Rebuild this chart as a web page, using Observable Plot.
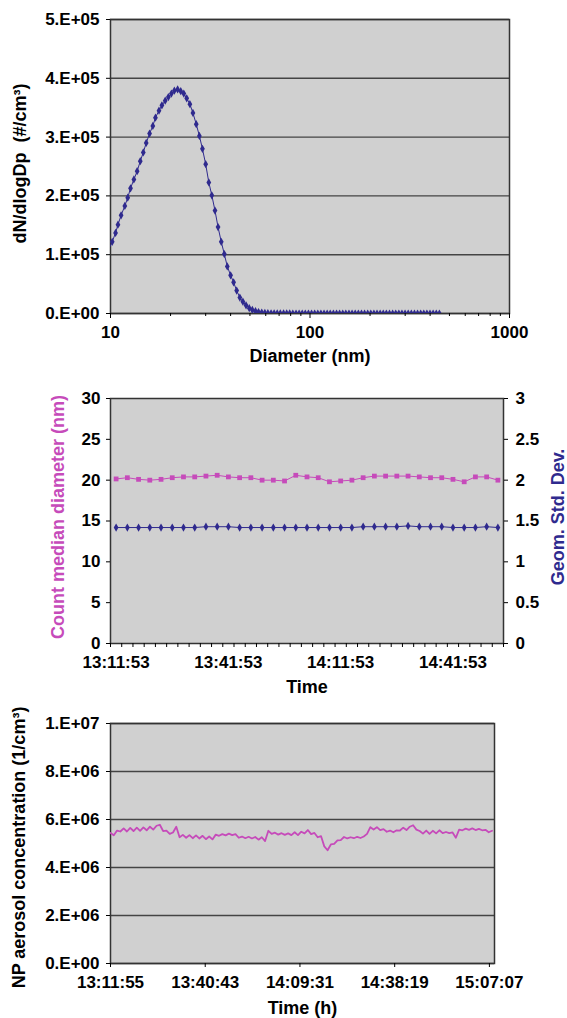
<!DOCTYPE html>
<html>
<head>
<meta charset="utf-8">
<script src="https://cdn.jsdelivr.net/npm/d3@7"></script>
<script src="https://cdn.jsdelivr.net/npm/@observablehq/plot@0.6"></script>
<style>
  body { margin: 0; background: #fff; }
  #chart svg { display: block; }
</style>
</head>
<body>
<div id="chart"></div>
<script>
// ---------- Panel 1: size distribution ----------
const diameterNm = [
  9.82, 10.2, 10.6, 10.9, 11.3, 11.8, 12.2, 12.6, 13.1, 13.6,
  14.1, 14.6, 15.1, 15.7, 16.3, 16.8, 17.5, 18.1, 18.8, 19.5,
  20.2, 20.9, 21.7, 22.5, 23.3, 24.1, 25.0, 25.9, 26.9, 27.9,
  28.9, 30.0, 31.1, 32.2, 33.4, 34.6, 35.9, 37.2, 38.5, 40.0,
  41.4, 42.9, 44.5, 46.1, 47.8, 49.6, 51.4, 53.3, 55.2, 57.3,
  59.4, 61.5, 63.8, 66.1, 68.5, 71.0, 73.7, 76.4, 79.1, 82.0,
  85.1, 88.2, 91.4, 94.7, 98.2, 101.8, 105.5, 109.4, 113.4, 117.6,
  121.9, 126.3, 131.0, 135.8, 140.7, 145.9, 151.2, 156.8, 162.5, 168.5,
  174.7, 181.1, 187.7, 194.6, 201.7, 209.1, 216.7, 224.7, 232.9, 241.4,
  250.3, 259.5, 269.0, 278.8, 289.0, 299.6, 310.6, 322.0, 333.8, 346.0,
  358.7, 371.8, 385.4, 399.5, 414.2, 429.4, 445.1
];
const dNdlogDp = [
  110000, 122000, 137000, 151000, 167000, 183000, 197000, 213000, 228000, 242000,
  259000, 274000, 290000, 306000, 319000, 333000, 345000, 354000, 362000, 368000,
  374000, 379000, 381000, 378000, 374000, 366000, 356000, 341000, 322000, 302000,
  280000, 254000, 223000, 201000, 175000, 147000, 122000, 101000, 80000, 65000,
  53000, 39000, 27000, 20000, 14000, 9000, 6000, 4000, 2500, 1500,
  1000, 600, 400, 250, 150, 100, 60, 40, 30, 0,
  0, 0, 0, 0, 0, 0, 0, 0, 0, 0,
  0, 0, 0, 0, 0, 0, 0, 0, 0, 0,
  0, 0, 0, 0, 0, 0, 0, 0, 0, 0,
  0, 0, 0, 0, 0, 0, 0, 0, 0, 0,
  0, 0, 0, 0, 0, 0, 0
];
const p1YTicks = [0, 100000, 200000, 300000, 400000, 500000];
const p1YTickLabels = ["0.E+00", "1.E+05", "2.E+05", "3.E+05", "4.E+05", "5.E+05"];
const p1XMajor = [10, 100, 1000];
const p1XMajorLabels = ["10", "100", "1000"];
const p1XMinor = [20, 30, 40, 50, 60, 70, 80, 90, 200, 300, 400, 500, 600, 700, 800, 900];

// ---------- Panel 2: CMD and GSD over time ----------
const cmdTimes = [
  "13:11:53", "13:14:53", "13:17:53", "13:20:53", "13:23:53", "13:26:53", "13:29:53",
  "13:32:53", "13:35:53", "13:38:53", "13:41:53", "13:44:53", "13:47:53", "13:50:53",
  "13:53:53", "13:56:53", "13:59:53", "14:02:53", "14:05:53", "14:08:53", "14:11:53",
  "14:14:53", "14:17:53", "14:20:53", "14:23:53", "14:26:53", "14:29:53", "14:32:53",
  "14:35:53", "14:38:53", "14:41:53", "14:44:53", "14:47:53", "14:50:53", "14:53:53"
];
const cmdNm = [
  20.15, 20.3, 20.1, 20.0, 20.1, 20.3, 20.4, 20.4, 20.5, 20.6,
  20.4, 20.3, 20.3, 20.0, 20.0, 19.9, 20.6, 20.4, 20.3, 19.8,
  19.9, 20.0, 20.3, 20.5, 20.5, 20.5, 20.5, 20.4, 20.3, 20.3,
  20.1, 19.8, 20.4, 20.4, 20.0
];
const gsd = [
  1.42, 1.42, 1.42, 1.42, 1.42, 1.42, 1.42, 1.42, 1.43, 1.43,
  1.43, 1.42, 1.42, 1.42, 1.42, 1.42, 1.42, 1.42, 1.42, 1.42,
  1.42, 1.42, 1.43, 1.43, 1.43, 1.43, 1.44, 1.43, 1.43, 1.43,
  1.42, 1.42, 1.42, 1.43, 1.42
];
const p2XLabels = ["13:11:53", "13:41:53", "14:11:53", "14:41:53"];
const p2LeftTicks = [0, 5, 10, 15, 20, 25, 30];
const p2RightTicks = [0, 0.5, 1, 1.5, 2, 2.5, 3];
const p2RightTickLabels = ["0", "0.5", "1", "1.5", "2", "2.5", "3"];

// ---------- Panel 3: total concentration ----------
const concStart = "13:11:55";
const concStepSec = 60;
const concValues = [
  5.44e6, 5.34e6, 5.54e6, 5.50e6, 5.63e6, 5.50e6, 5.65e6, 5.52e6, 5.66e6, 5.53e6,
  5.67e6, 5.55e6, 5.70e6, 5.58e6, 5.74e6, 5.78e6, 5.52e6, 5.54e6, 5.40e6, 5.46e6,
  5.70e6, 5.26e6, 5.36e6, 5.24e6, 5.35e6, 5.22e6, 5.34e6, 5.21e6, 5.32e6, 5.18e6,
  5.29e6, 5.17e6, 5.37e6, 5.32e6, 5.39e6, 5.34e6, 5.41e6, 5.35e6, 5.39e6, 5.24e6,
  5.29e6, 5.22e6, 5.28e6, 5.21e6, 5.27e6, 5.16e6, 5.26e6, 5.10e6, 5.53e6, 5.40e6,
  5.45e6, 5.37e6, 5.43e6, 5.36e6, 5.42e6, 5.35e6, 5.47e6, 5.35e6, 5.49e6, 5.42e6,
  5.56e6, 5.39e6, 5.44e6, 5.26e6, 5.31e6, 4.88e6, 4.72e6, 4.96e6, 4.98e6, 5.13e6,
  5.14e6, 5.27e6, 5.21e6, 5.26e6, 5.22e6, 5.28e6, 5.23e6, 5.29e6, 5.40e6, 5.68e6,
  5.58e6, 5.68e6, 5.56e6, 5.60e6, 5.49e6, 5.54e6, 5.47e6, 5.55e6, 5.54e6, 5.66e6,
  5.56e6, 5.70e6, 5.76e6, 5.58e6, 5.52e6, 5.41e6, 5.54e6, 5.40e6, 5.53e6, 5.42e6,
  5.55e6, 5.43e6, 5.48e6, 5.43e6, 5.46e6, 5.24e6, 5.58e6, 5.55e6, 5.62e6, 5.57e6,
  5.63e6, 5.56e6, 5.61e6, 5.55e6, 5.57e6, 5.47e6, 5.53e6
];
const p3XTickLabels = ["13:11:55", "13:40:43", "14:09:31", "14:38:19", "15:07:07"];
const p3XEnd = "15:08:40";
const p3YTicks = [0, 2e6, 4e6, 6e6, 8e6, 1e7];
const p3YTickLabels = ["0.E+00", "2.E+06", "4.E+06", "6.E+06", "8.E+06", "1.E+07"];

// ---------- styling ----------
const FONT = "'Liberation Sans', Arial, Helvetica, sans-serif";
const navy = "#2f2a8e";
const pink = "#c64bba";
const plotBg = "#d0d0d0";
const frameColor = "#333";
const gridColor = "#444";
const baseStyle = {fontFamily: FONT, fontSize: "17px", fontWeight: "bold", color: "#000", background: "#fff", overflow: "visible"};
const hms = s => { const [h, m, x] = s.split(":").map(Number); return h * 3600 + m * 60 + x; };
const titleText = (label, opts) => Plot.text([label], {text: d => d, fontSize: 18, fontWeight: "bold", textAnchor: "middle", lineAnchor: "middle", ...opts});

const chart = document.getElementById("chart");

// Panel 1
const sizeData = diameterNm.map((d, i) => ({d, v: dNdlogDp[i]}));
chart.append(Plot.plot({
  width: 567, height: 370,
  marginTop: 19, marginBottom: 57, marginLeft: 110, marginRight: 58,
  style: baseStyle,
  x: {type: "log", domain: [10, 1000]},
  y: {domain: [0, 500000]},
  marks: [
    Plot.frame({fill: plotBg, stroke: null}),
    Plot.gridY({ticks: p1YTicks, stroke: gridColor, strokeOpacity: 1, strokeWidth: 1.4}),
    Plot.frame({stroke: frameColor, strokeWidth: 1.5}),
    Plot.line(sizeData, {x: "d", y: "v", stroke: navy, strokeWidth: 1, clip: true}),
    Plot.dot(sizeData.filter(p => p.d >= 10), {x: "d", y: "v", symbol: "diamond", fill: navy, r: 2.5, clip: true}),
    Plot.axisY({ticks: p1YTicks, tickFormat: d => p1YTickLabels[p1YTicks.indexOf(d)], tickSize: 4, tickPadding: 7, label: null}),
    Plot.axisX({ticks: p1XMajor, tickFormat: d => p1XMajorLabels[p1XMajor.indexOf(d)], tickSize: 5, tickPadding: 7, label: null}),
    Plot.axisX({ticks: p1XMinor, tickFormat: () => "", tickSize: 3, label: null}),
    titleText("dN/dlogDp  (#/cm³)", {frameAnchor: "left", rotate: -90, dx: -90, dy: -3}),
    titleText("Diameter (nm)", {frameAnchor: "bottom", dy: 43})
  ]
}));

// Panel 2
const gsdScale = p2LeftTicks[p2LeftTicks.length - 1] / p2RightTicks[p2RightTicks.length - 1];
const p2Data = cmdTimes.map((t, i) => ({i, t, cmd: cmdNm[i], gsd: gsd[i]}));
const p2Bounds = d3.range(cmdTimes.length + 1).map(i => i - 0.5);
const p2LabelIdx = p2XLabels.map(l => cmdTimes.indexOf(l));
chart.append(Plot.plot({
  width: 567, height: 330,
  marginTop: 28, marginBottom: 57, marginLeft: 110, marginRight: 64,
  style: baseStyle,
  x: {domain: [-0.5, cmdTimes.length - 0.5]},
  y: {domain: [0, 30]},
  marks: [
    Plot.frame({fill: plotBg, stroke: null}),
    Plot.frame({stroke: frameColor, strokeWidth: 1.5}),
    Plot.line(p2Data, {x: "i", y: "cmd", stroke: pink, strokeWidth: 1}),
    Plot.dot(p2Data, {x: "i", y: "cmd", symbol: "square", fill: pink, r: 2.7}),
    Plot.line(p2Data, {x: "i", y: d => d.gsd * gsdScale, stroke: navy, strokeWidth: 1}),
    Plot.dot(p2Data, {x: "i", y: d => d.gsd * gsdScale, symbol: "diamond", fill: navy, r: 2.5}),
    Plot.axisY({ticks: p2LeftTicks, tickSize: 4, tickPadding: 6, label: null}),
    Plot.axisY({anchor: "right", ticks: p2RightTicks.map(v => v * gsdScale),
      tickFormat: d => p2RightTickLabels[p2RightTicks.map(v => v * gsdScale).indexOf(d)], tickSize: 4, tickPadding: 8, label: null}),
    Plot.axisX({ticks: p2Bounds, tickFormat: () => "", tickSize: 4, label: null}),
    Plot.axisX({ticks: p2LabelIdx, tickFormat: d => cmdTimes[d], tickSize: 0, tickPadding: 12, label: null}),
    titleText("Count median diameter (nm)", {frameAnchor: "left", rotate: -90, dx: -52, dy: -4, fill: pink}),
    titleText("Geom. Std. Dev.", {frameAnchor: "right", rotate: -90, dx: 55, dy: -4, fill: navy}),
    titleText("Time", {frameAnchor: "bottom", dy: 44})
  ]
}));

// Panel 3
const t0 = hms(concStart);
const concData = concValues.map((v, i) => ({t: t0 + i * concStepSec, v}));
const p3XTicks = p3XTickLabels.map(hms);
chart.append(Plot.plot({
  width: 567, height: 318,
  marginTop: 23, marginBottom: 55, marginLeft: 110, marginRight: 73,
  style: baseStyle,
  x: {domain: [hms(p3XTickLabels[0]), hms(p3XEnd)]},
  y: {domain: [0, 1e7]},
  marks: [
    Plot.frame({fill: plotBg, stroke: null}),
    Plot.gridY({ticks: p3YTicks, stroke: gridColor, strokeOpacity: 1, strokeWidth: 1.4}),
    Plot.frame({stroke: frameColor, strokeWidth: 1.5}),
    Plot.line(concData, {x: "t", y: "v", stroke: pink, strokeWidth: 1.8, clip: true}),
    Plot.axisY({ticks: p3YTicks, tickFormat: d => p3YTickLabels[p3YTicks.indexOf(d)], tickSize: 4, tickPadding: 7, label: null}),
    Plot.axisX({ticks: p3XTicks, tickFormat: d => p3XTickLabels[p3XTicks.indexOf(d)], tickSize: 4, tickPadding: 8, label: null}),
    titleText("NP aerosol concentration (1/cm³)", {frameAnchor: "left", rotate: -90, dx: -91, dy: 4}),
    titleText("Time (h)", {frameAnchor: "bottom", dy: 45})
  ]
}));
</script>
</body>
</html>
